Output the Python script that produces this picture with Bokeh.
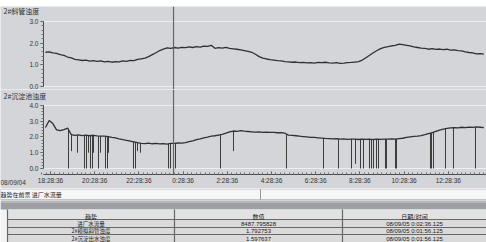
import numpy as np
from bokeh.plotting import figure
from bokeh.layouts import column
from bokeh.models import Range1d, FixedTicker, Span, Label, Spacer
from bokeh.embed import file_html
from bokeh.resources import INLINE
from bokeh.core.properties import value

# ---------------- data ----------------
# time axis: seconds since 08/09/04 00:00
t_start = 65700      # 08/09/04 18:15:00, first sample
t_step = 600         # one sample every 10 minutes

# 2#斜管浊度
slant_tube_turbidity = [
    1.58, 1.60, 1.55, 1.53, 1.47, 1.44, 1.36, 1.32, 1.25, 1.23,
    1.20, 1.22, 1.17, 1.19, 1.16, 1.18, 1.14, 1.16, 1.12, 1.15,
    1.14, 1.18, 1.16, 1.21, 1.19, 1.25, 1.28, 1.31, 1.38, 1.47,
    1.56, 1.66, 1.72, 1.78, 1.76, 1.80, 1.77, 1.81, 1.79, 1.83,
    1.80, 1.84, 1.82, 1.86, 1.85, 1.90, 1.76, 1.79, 1.77, 1.81,
    1.76, 1.74, 1.72, 1.69, 1.66, 1.62, 1.58, 1.49, 1.38, 1.31,
    1.27, 1.24, 1.22, 1.19, 1.18, 1.15, 1.14, 1.12, 1.13, 1.10,
    1.11, 1.09, 1.10, 1.08, 1.11, 1.10, 1.12, 1.09, 1.08, 1.10,
    1.07, 1.08, 1.10, 1.11, 1.13, 1.15, 1.22, 1.33, 1.44, 1.56,
    1.66, 1.75, 1.81, 1.84, 1.88, 1.90, 1.96, 1.93, 1.90, 1.87,
    1.83, 1.80, 1.77, 1.76, 1.72, 1.75, 1.71, 1.73, 1.70, 1.72,
    1.68, 1.69, 1.66, 1.64, 1.60, 1.57, 1.55, 1.51, 1.52, 1.49,
]

# 2#沉淀池浊度
settling_turbidity = [
    2.60, 3.05, 2.85, 2.45, 2.40, 2.47, 2.56, 2.15, 2.10, 2.13,
    2.09, 2.12, 2.08, 2.11, 2.07, 2.05, 2.06, 2.03, 1.98, 1.94,
    1.88, 1.83, 1.79, 1.74, 1.69, 1.64, 1.60, 1.58, 1.61, 1.57,
    1.59, 1.56, 1.58, 1.55, 1.59, 1.60, 1.62, 1.61, 1.64, 1.70,
    1.76, 1.83, 1.88, 1.94, 1.99, 2.05, 2.08, 2.12, 2.16, 2.24,
    2.33, 2.38, 2.36, 2.40, 2.37, 2.35, 2.33, 2.31, 2.32, 2.30,
    2.31, 2.29, 2.30, 2.27, 2.28, 2.24, 2.12, 2.10, 2.08, 2.05,
    2.03, 2.01, 1.98, 1.97, 1.95, 1.93, 1.91, 1.90, 1.88, 1.89,
    1.87, 1.88, 1.85, 1.87, 1.86, 1.84, 1.86, 1.85, 1.87, 1.84,
    1.86, 1.85, 1.87, 1.86, 1.88, 1.87, 1.90, 1.92, 1.97, 2.01,
    2.04, 2.06, 2.09, 2.15, 2.22, 2.28, 2.36, 2.44, 2.50, 2.55,
    2.58, 2.60, 2.58, 2.62, 2.60, 2.63, 2.61, 2.64, 2.62, 2.60,
]

# signal dropouts of 2#沉淀池浊度 (time in s, lowest value reached)
dropout_times = [
    69448, 69937, 70913, 72054, 72382, 72706, 73030, 73357, 73519, 74336,
    74660, 75474, 75802, 75964, 80035, 80363, 80687, 81176, 85738, 86065,
    86551, 86879, 94208, 96325, 104958, 110988, 113429, 115549, 116201, 117014,
    117504, 118480, 118807, 119131, 119621, 119945, 121086, 121248, 122717, 122879,
    128416, 128578, 128905, 130860, 132163, 135745,
]
dropout_lows = [
    0.0, 1.1, 1.0, 0.0, 0.0, 1.0, 0.0, 0.0, 1.0, 0.0,
    1.0, 0.0, 0.0, 1.0, 0.0, 0.0, 1.1, 1.0, 0.0, 0.0,
    1.1, 0.0, 0.0, 1.1, 0.0, 0.0, 0.0, 0.0, 0.3, 0.0,
    0.0, 0.0, 0.0, 0.0, 0.0, 0.0, 0.0, 0.0, 0.0, 0.0,
    0.0, 0.0, 0.0, 0.0, 0.0, 0.0,
]

cursor_time = 86556   # 08/09/05 0:02:36

time_ticks = [66516, 73716, 80916, 88116, 95316, 102516, 109716, 116916, 124116, 131316]
time_tick_labels = ["18:28:36", "20:28:36", "22:28:36", "0:28:36", "2:28:36",
                    "4:28:36", "6:28:36", "8:28:36", "10:28:36", "12:28:36"]
start_date_label = "08/09/04"

top_y_ticks = [0, 1, 2, 3]
top_y_labels = ["0.0", "1.0", "2.0", "3.0"]
bot_y_ticks = [0, 1, 2, 3, 4]
bot_y_labels = ["0.0", "1.0", "2.0", "3.0", "4.0"]

top_title = "2#斜管浊度"
bot_title = "2#沉淀池浊度"
foreground_text = "趋势在前景 进厂水流量"

table_headers = ["趋势", "数值", "日期/时间"]
trend_names = ["进厂水流量", "2#模拟斜管浊度", "2#沉淀出水浊度"]
trend_values = ["8487.795828", "1.792753", "1.597637"]
trend_times = ["08/09/05 0:02:36.125", "08/09/05 0:01:56.125", "08/09/05 0:01:56.125"]

# ---------------- styling / layout ----------------
FONT = "Liberation Sans"
CJK = "Noto Sans CJK SC"
BG = "#d3d5d8"
AX = "#4a4a4a"
TXT = "#333333"
W = 486

X_VIEW = (58371, 137539)     # visible time window (incl. label gutter)
AXIS_T = 65376               # where the value axes stand
BOT_AXIS_Y = -0.381          # where the time axis stands

times = [t_start + i * t_step for i in range(len(slant_tube_turbidity))]
xr = Range1d(*X_VIEW)


def base_fig(height, yr):
    p = figure(width=W, height=height, x_range=xr, y_range=yr,
               output_backend="svg", toolbar_location=None,
               x_axis_location="below", y_axis_location="left",
               min_border=0,
               background_fill_color=BG, border_fill_color=BG,
               outline_line_color=None)
    p.grid.visible = False
    return p


def style_y(p, ticks, labels):
    n = int(ticks[-1] * 5)
    ax = p.yaxis[0]
    ax.fixed_location = AXIS_T
    ax.ticker = FixedTicker(ticks=ticks, minor_ticks=[k * 0.2 for k in range(n + 1)])
    ax.major_label_overrides = dict(zip(ticks, labels))
    ax.bounds = (ticks[0], ticks[-1])
    ax.axis_line_color = AX
    ax.major_tick_line_color = AX
    ax.minor_tick_line_color = "#707070"
    ax.major_tick_in = 0
    ax.major_tick_out = 3
    ax.minor_tick_in = 0
    ax.minor_tick_out = 2
    ax.major_label_text_font = FONT
    ax.major_label_text_font_size = "6.5px"
    ax.major_label_text_color = TXT
    ax.major_label_standoff = 2
    # light frame lines at the ends of the value scale
    p.segment(x0=[AXIS_T] * 2, x1=[X_VIEW[1]] * 2, y0=[ticks[0], ticks[-1]],
              y1=[ticks[0], ticks[-1]], line_color="#eceef0", line_width=1)


def title_label(text, y):
    return Label(x=3, y=y, x_units="screen", y_units="screen", text=text,
                 text_font=CJK, text_font_size="7px", text_color=TXT,
                 text_baseline="middle", text_align="left")


# ---- top trend ----
pa = base_fig(83, Range1d(-0.138, 3.692))
pa.xaxis.visible = False
style_y(pa, top_y_ticks, top_y_labels)
pa.line(times, slant_tube_turbidity, line_color="#303030", line_width=1.3)
pa.add_layout(Span(location=cursor_time, dimension="height", line_color="#666666", line_width=1.2))
pa.add_layout(title_label(top_title, 79))

# ---- bottom trend ----
pb = base_fig(99, Range1d(-1.270, 5.016))
style_y(pb, bot_y_ticks, bot_y_labels)
xa = pb.xaxis[0]
xa.fixed_location = BOT_AXIS_Y
xa.bounds = (AXIS_T, X_VIEW[1])
xa.ticker = FixedTicker(ticks=time_ticks,
                        minor_ticks=[time_ticks[0] + 720 * k for k in range(-2, 100)])
xa.major_label_overrides = dict(zip(time_ticks, time_tick_labels))
xa.axis_line_color = AX
xa.major_tick_line_color = AX
xa.minor_tick_line_color = "#707070"
xa.major_tick_in = 3
xa.major_tick_out = 0
xa.minor_tick_in = 2
xa.minor_tick_out = 0
xa.major_label_text_font = FONT
xa.major_label_text_font_size = "6.5px"
xa.major_label_text_color = TXT
xa.major_label_standoff = 3

base_at_drop = np.interp(dropout_times, times, settling_turbidity)
pb.segment(x0=dropout_times, y0=base_at_drop, x1=dropout_times, y1=dropout_lows,
           line_color="#3c3c3c", line_width=1)
pb.line(times, settling_turbidity, line_color="#303030", line_width=1.3)
pb.segment(x0=[cursor_time], x1=[cursor_time], y0=[BOT_AXIS_Y], y1=[pb.y_range.end],
           line_color="#666666", line_width=1.2)
pb.add_layout(title_label(bot_title, 93))
pb.add_layout(Label(x=0, y=6, x_units="screen", y_units="screen", text=start_date_label,
                    text_font=FONT, text_font_size="6.5px", text_color=TXT,
                    text_baseline="middle", text_align="left"))

# ---- status strip + value table ----
TH = 54
tab = figure(width=W, height=TH, x_range=Range1d(0, W), y_range=Range1d(TH, 0),
             output_backend="svg", toolbar_location=None,
             x_axis_location=None, y_axis_location=None, min_border=0,
             background_fill_color="#f3f3f3", border_fill_color="#f3f3f3",
             outline_line_color=None)
tab.grid.visible = False

# strip with foreground trend name
tab.quad(left=[0], right=[W], top=[0.5], bottom=[11], fill_color="#f6f6f6",
         line_color="#c4c4c4", line_width=1)
tab.segment(x0=[260], y0=[0.5], x1=[260], y1=[11], line_color="#9a9a9a", line_width=1)
tab.text(x=[0], y=[6], text=[foreground_text], text_font=value(CJK),
         text_font_size="6px", text_color="#222222", text_baseline="middle", text_align="left")

# dark header band
tab.quad(left=[0], right=[W], top=[12], bottom=[14.5], fill_color="#b4b7bb", line_color=None)
tab.quad(left=[0], right=[W], top=[14.5], bottom=[21], fill_color="#9c9fa3", line_color=None)

# table body
col_edges = [7, 174, 342, W]
row_edges = [21, 31, 39, 46, 54]
col_centers = [(col_edges[i] + col_edges[i + 1]) / 2 for i in range(3)]
row_centers = [27.5, 35, 42.5, 50]

tab.quad(left=[col_edges[0]], right=[W], top=[row_edges[0]], bottom=[row_edges[-1]],
         fill_color="#dadada", line_color=None)
tab.quad(left=[col_edges[0]], right=[W], top=[row_edges[0]], bottom=[row_edges[1]],
         fill_color="#e2e2e2", line_color=None)
tab.segment(x0=[col_edges[0]] * 3, y0=row_edges[1:4], x1=[W] * 3, y1=row_edges[1:4],
            line_color="#686868", line_width=1.2)
tab.segment(x0=col_edges[:3], y0=[row_edges[0]] * 3, x1=col_edges[:3], y1=[row_edges[-1]] * 3,
            line_color="#686868", line_width=1.2)

tab.text(x=col_centers, y=[row_centers[0]] * 3, text=table_headers, text_font=value(CJK),
         text_font_size="6px", text_color="#222222", text_baseline="middle", text_align="center")
tab.text(x=[col_centers[0]] * 3, y=row_centers[1:], text=trend_names, text_font=value(CJK),
         text_font_size="5.5px", text_color="#222222", text_baseline="middle", text_align="center")
tab.text(x=[col_centers[1]] * 3, y=row_centers[1:], text=trend_values, text_font=value(FONT),
         text_font_size="6px", text_color="#222222", text_baseline="middle", text_align="center")
tab.text(x=[col_centers[2]] * 3, y=row_centers[1:], text=trend_times, text_font=value(FONT),
         text_font_size="6px", text_color="#222222", text_baseline="middle", text_align="center")

layout = column(Spacer(width=W, height=6), pa, pb, tab, spacing=0)
open("out.html", "w").write(file_html(layout, INLINE))
